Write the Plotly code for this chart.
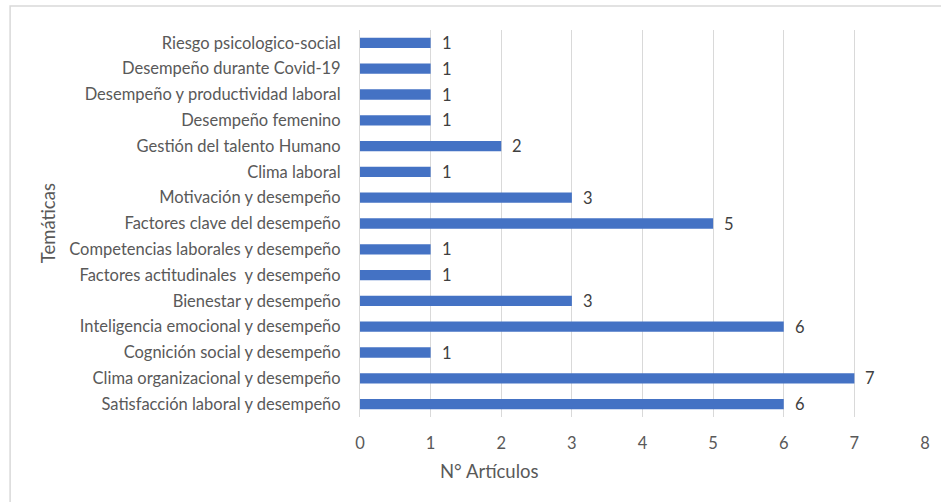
import plotly.graph_objects as go

# Topics (bottom to top) and number of articles per topic
tematicas = [
    "Satisfacción laboral y desempeño",
    "Clima organizacional y desempeño",
    "Cognición social y desempeño",
    "Inteligencia emocional y desempeño",
    "Bienestar y desempeño",
    "Factores actitudinales\u00a0 y desempeño",
    "Competencias laborales y desempeño",
    "Factores clave del desempeño",
    "Motivación y desempeño",
    "Clima laboral",
    "Gestión del talento Humano",
    "Desempeño femenino",
    "Desempeño y productividad laboral",
    "Desempeño durante Covid-19",
    "Riesgo psicologico-social",
]
articulos = [6, 7, 1, 6, 3, 1, 1, 5, 3, 1, 2, 1, 1, 1, 1]
x_ticks = [0, 1, 2, 3, 4, 5, 6, 7, 8]

W, H = 941, 502
ML, MR, MT, MB = 360, 11, 30, 85
pw, ph = W - ML - MR, H - MT - MB

FONT = "Lato"
GREY = "#595959"
FS = 16.5

fig = go.Figure(
    go.Bar(
        x=articulos,
        y=tematicas,
        orientation="h",
        marker=dict(color="#4472C4", line=dict(width=0)),
        width=0.4,
        hoverinfo="x+y",
    )
)

# value labels next to each bar end
for cat, val in zip(tematicas, articulos):
    fig.add_annotation(
        x=val, y=cat, text=str(val), showarrow=False,
        xanchor="left", xshift=9,
        font=dict(family=FONT, size=FS, color="#404040"),
    )

# axis titles
fig.add_annotation(
    xref="paper", yref="paper",
    x=(491 - ML) / pw, y=(H - MB - 471) / ph,
    xanchor="center", yanchor="middle",
    text="N° Artículos", showarrow=False,
    font=dict(family=FONT, size=18.5, color=GREY),
)
fig.add_annotation(
    xref="paper", yref="paper",
    x=(45 - ML) / pw, y=0.5, textangle=-90,
    xanchor="center", yanchor="middle",
    text="Temáticas", showarrow=False,
    font=dict(family=FONT, size=18.5, color=GREY),
)

# chart frame
fig.add_shape(
    type="rect", xref="paper", yref="paper",
    x0=(7 - ML) / pw, x1=(W + 10 - ML) / pw,
    y0=(H - MB - (H + 10)) / ph, y1=(H - MB - 6) / ph,
    line=dict(color="#d9d9d9", width=1.5), fillcolor="rgba(0,0,0,0)",
    layer="below",
)

fig.update_layout(
    width=W, height=H,
    margin=dict(l=ML, r=MR, t=MT, b=MB),
    paper_bgcolor="white", plot_bgcolor="white",
    showlegend=False,
    font=dict(family=FONT, size=FS, color=GREY),
    bargap=0.6,
    xaxis=dict(
        range=[0, 8], tickvals=x_ticks, ticktext=[str(t) for t in x_ticks],
        showgrid=True, gridcolor="#d9d9d9", gridwidth=1,
        zeroline=False, showline=False, ticks="",
        ticklabelstandoff=14,
        tickfont=dict(family=FONT, size=FS, color=GREY),
        fixedrange=True,
    ),
    yaxis=dict(
        categoryorder="array", categoryarray=tematicas,
        showgrid=False, zeroline=False,
        showline=True, linecolor="#d9d9d9", linewidth=1,
        ticks="", ticklabelstandoff=15,
        tickfont=dict(family=FONT, size=FS, color=GREY),
        fixedrange=True,
    ),
)

fig.write_html("out.html")
